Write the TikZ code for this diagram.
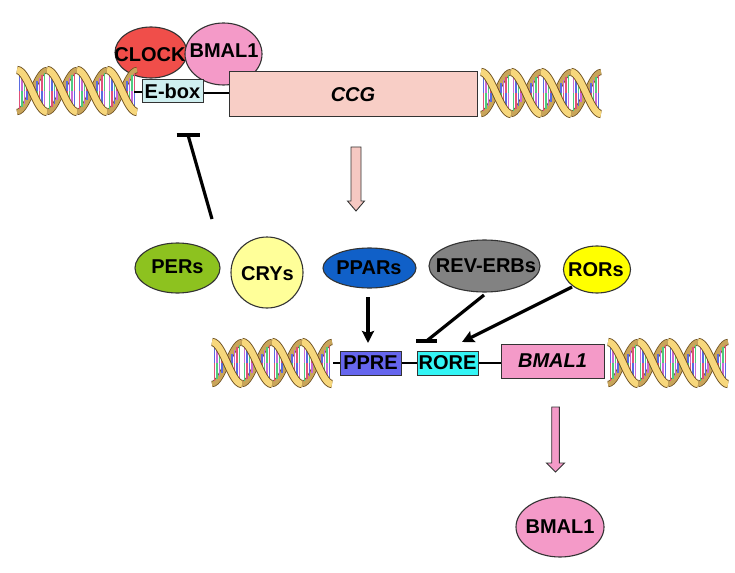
\documentclass[tikz,border=0pt]{standalone}
\usepackage{fontspec}
\setmainfont{Liberation Sans}
\usetikzlibrary{arrows.meta,shapes.geometric}

\definecolor{outl}{HTML}{333333}
\definecolor{strandline}{HTML}{6E5020}
\definecolor{strandgold}{HTML}{F7D77C}
\definecolor{strandgoldd}{HTML}{C9A55A}
\definecolor{rbl}{HTML}{5A6AE0}
\definecolor{rpu}{HTML}{C86AD8}
\definecolor{rrd}{HTML}{E0507A}
\definecolor{rgr}{HTML}{4FCB80}
\definecolor{clockred}{HTML}{F04E4A}
\definecolor{bmalpink}{HTML}{F49AC8}
\definecolor{ccgpink}{HTML}{F8CEC6}
\definecolor{eboxc}{HTML}{CFEFF0}
\definecolor{ppreblue}{HTML}{6666EE}
\definecolor{rorecyan}{HTML}{33F5F5}
\definecolor{persgreen}{HTML}{8DC21F}
\definecolor{cryyellow}{HTML}{FFFF99}
\definecolor{pparblue}{HTML}{1060C8}
\definecolor{revgray}{HTML}{828282}
\definecolor{roryellow}{HTML}{FFFF00}
\definecolor{arrowpinkA}{HTML}{F6C8C2}

\tikzset{
  strandback/.style={line width=0.8pt, draw=strandline, double=strandgoldd, double distance=4.6pt},
  strandfront/.style={line width=0.9pt, draw=strandline, double=strandgold, double distance=6.4pt},
  blob/.style={ellipse, draw=outl, line width=1.1pt, inner sep=0pt},
  lbl/.style={font=\fontsize{20}{22}\selectfont\bfseries, inner sep=0pt},
  gbox/.style={draw=outl, line width=1pt, inner sep=0pt, font=\fontsize{20}{22}\selectfont\bfseries},
  conn/.style={line width=3.2pt, black},
  act/.style={conn, -{Stealth[length=12pt,width=12pt,inset=2pt]}},
  dnaline/.style={line width=2.5pt, black},
  bigarrow/.style={draw=outl, line width=0.9pt, line join=miter},
}

\newcommand{\dnahelix}[2]{%
\begin{scope}[shift={(#1,#2)}]
 \foreach \k in {0,1}{%
  \draw[strandback] plot[smooth,samples=15,variable=\t,domain=90+360*\k:270+360*\k] ({\t/6},{21*sin(\t)});
  \draw[strandback] plot[smooth,samples=15,variable=\t,domain=-90+360*\k:90+360*\k] ({\t/6},{-21*sin(\t)});
 }
 \foreach \k in {0,1}{%
  \foreach \o/\ca/\cb in {-75/rbl/rrd,-60/rpu/rgr,-45/rgr/rpu,-30/rrd/rbl,-15/rbl/rgr,15/rpu/rrd,30/rgr/rbl,45/rrd/rpu,60/rbl/rrd,75/rpu/rgr,105/rgr/rpu,120/rrd/rbl,135/rbl/rgr,150/rpu/rrd,165/rgr/rbl,195/rrd/rpu,210/rbl/rrd,225/rpu/rgr,240/rgr/rpu,255/rrd/rbl}{%
   \pgfmathsetmacro\rx{(\o+360*\k)/6}
   \pgfmathsetmacro\ry{19*sin(\o)}
   \pgfmathsetmacro\rya{-19*sin(\o)}
   \draw[line width=1.5pt,\ca] (\rx,\ry) -- (\rx,0);
   \draw[line width=1.5pt,\cb] (\rx,0) -- (\rx,\rya);
  }
 }
 \foreach \k in {0,1}{%
  \draw[strandfront] plot[smooth,samples=15,variable=\t,domain=-90+360*\k:90+360*\k] ({\t/6},{21*sin(\t)});
  \draw[strandfront] plot[smooth,samples=15,variable=\t,domain=90+360*\k:270+360*\k] ({\t/6},{-21*sin(\t)});
 }
\end{scope}}

\begin{document}
\begin{tikzpicture}[x=1pt,y=-1pt]
\fill[white] (0,0) rectangle (735,572);
\useasboundingbox (0,0) rectangle (735,572);

% ---------- top gene ----------
\node[blob, fill=clockred, minimum width=72, minimum height=51] (clock) at (151,52.5) {};
\node[blob, fill=bmalpink, minimum width=77, minimum height=62] (bmaltop) at (223.5,54) {};

\dnahelix{32}{91}
\dnahelix{496}{93}

\coordinate (h1e) at (134,92);
\node[gbox, fill=eboxc, minimum width=61, minimum height=23] (ebox) at (172.5,91.5) {E-box};
\node[gbox, fill=ccgpink, minimum width=248, minimum height=45, font=\fontsize{20}{22}\selectfont\bfseries\itshape] (ccg) at (353,94.5) {CCG};
\draw[dnaline] (h1e) -- (ebox.west |- h1e);
\draw[dnaline] (ebox.east |- 0,93) -- (ccg.west |- 0,93);

\node[lbl] (clocktxt) at (150,55) {CLOCK};
\node[lbl] (bmaltoptxt) at (224,51) {BMAL1};

% pink arrow from CCG
\coordinate (pa1) at (356,147);
\draw[bigarrow, fill=arrowpinkA] (pa1) ++(-5,0) -- ++(10,0) -- ++(0,54) -- ++(3.5,0) -- ++(-8.5,10) -- ++(-8.5,-10) -- ++(3.5,0) -- cycle;

% inhibition to E-box
\coordinate (inh1s) at (212,219);
\coordinate (inh1e) at (188,135);
\draw[conn] (inh1s) -- (inh1e);
\draw[conn] (inh1e) ++(-11.5,0) -- ++(23,0);

% ---------- middle proteins ----------
\node[blob, fill=persgreen, minimum width=85, minimum height=50] (pers) at (177.5,268) {};
\node[blob, fill=cryyellow, minimum width=72, minimum height=71] (crys) at (267,272.5) {};
\node[blob, fill=pparblue, minimum width=93, minimum height=40] (ppars) at (369.5,268) {};
\node[blob, fill=revgray, minimum width=111, minimum height=52] (reverbs) at (484.5,266) {};
\node[blob, fill=roryellow, minimum width=67, minimum height=47] (rors) at (597,269.5) {};
\node[lbl] (perstxt) at (177.5,267) {PERs};
\node[lbl] (crystxt) at (267.5,274) {CRYs};
\node[lbl] (pparstxt) at (369,268) {PPARs};
\node[lbl] (reverbstxt) at (486,266) {REV-ERBs};
\node[lbl] (rorstxt) at (596,269.5) {RORs};

% ---------- bottom gene ----------
\dnahelix{227}{363}
\dnahelix{623}{363}

\coordinate (h3e) at (333,363);
\node[gbox, fill=ppreblue, minimum width=61, minimum height=24] (ppre) at (370.5,363) {PPRE};
\node[gbox, fill=rorecyan, minimum width=61, minimum height=24] (rore) at (447.5,363) {RORE};
\node[gbox, fill=bmalpink, minimum width=103, minimum height=34, font=\fontsize{20}{22}\selectfont\bfseries\itshape] (bmalgene) at (552.5,361) {BMAL1};
\draw[dnaline] (h3e) -- (ppre.west);
\draw[dnaline] (ppre.east) -- (rore.west);
\draw[dnaline] (rore.east) -- (bmalgene.west |- rore.east);

% regulators
\coordinate (ppa) at (368,297);
\coordinate (ppb) at (368,343);
\draw[act] (ppa) -- (ppb);
\coordinate (rva) at (484,295);
\coordinate (rvb) at (426.5,341);
\draw[conn] (rva) -- (rvb);
\draw[conn] (rvb) ++(-10.5,0) -- ++(21,0);
\coordinate (roa) at (572,287);
\coordinate (rob) at (462,342);
\draw[act] (roa) -- (rob);

% pink arrow to BMAL1 protein
\coordinate (pa2) at (555.5,407);
\draw[bigarrow, fill=bmalpink] (pa2) ++(-3.8,0) -- ++(7.6,0) -- ++(0,56) -- ++(5.2,0) -- ++(-9,9) -- ++(-9,-9) -- ++(5.2,0) -- cycle;

\node[blob, fill=bmalpink, minimum width=88, minimum height=60] (bmalprot) at (560,527) {};
\node[lbl] (bmalprottxt) at (560,527) {BMAL1};
\end{tikzpicture}
\end{document}
